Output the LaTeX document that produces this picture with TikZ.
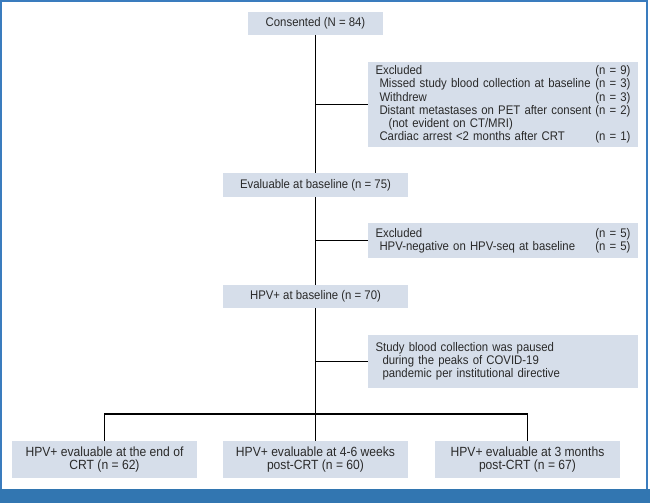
\documentclass[tikz,border=0pt]{standalone}
\usepackage{fontspec}
\setmainfont{Liberation Sans}[FakeStretch=0.91]
\definecolor{boxfill}{HTML}{D6DEEA}
\definecolor{frameblue}{HTML}{3A7CBE}
\definecolor{bandblue}{HTML}{3276B1}
\definecolor{txt}{HTML}{2A2A2A}
\newcommand{\rowlr}[2]{\makebox[255pt][l]{#1\hfill#2}}
\begin{document}
\begin{tikzpicture}[x=1pt,y=-1pt,
  box/.style={fill=boxfill, inner sep=0pt, text=txt,
    font=\fontsize{12.5}{13.2}\selectfont},
  sidebox/.style={box, text width=255pt, inner xsep=7.5pt, align=left},
  botbox/.style={box, minimum width=185pt, minimum height=37pt, align=center,
    font=\fontsize{13.3}{13.3}\selectfont},
  link/.style={draw=black, line width=1.4pt}]
\useasboundingbox (0,0) rectangle (650,503);
% frame and band
\draw[frameblue, line width=1.6pt] (0.8,489) -- (0.8,0.8) -- (647,0.8) -- (647,489);
\fill[bandblue] (0,489) rectangle (650,503);
% main boxes
\node[box, minimum width=135pt, minimum height=23pt] (cons) at (315.5,23.5) {Consented (N = 84)};
\node[box, minimum width=185pt, minimum height=24pt] (evalb) at (315.5,185) {Evaluable at baseline (n = 75)};
\node[box, minimum width=185pt, minimum height=23pt] (hpvb) at (315.5,296.5) {HPV+ at baseline (n = 70)};
% side boxes
\node[sidebox, minimum height=85pt] (excl1) at (503,104.5) {%
\rowlr{Excluded}{(n = 9)}\\
\rowlr{\hspace*{4pt}Missed study blood collection at baseline}{(n = 3)}\\
\rowlr{\hspace*{4pt}Withdrew}{(n = 3)}\\
\rowlr{\hspace*{4pt}Distant metastases on PET after consent}{(n = 2)}\\
\rowlr{\hspace*{13pt}(not evident on CT/MRI)}{}\\
\rowlr{\hspace*{4pt}Cardiac arrest <2 months after CRT}{(n = 1)}};
\node[sidebox, minimum height=35pt] (excl2) at (503,240.5) {%
\rowlr{Excluded}{(n = 5)}\\
\rowlr{\hspace*{4pt}HPV-negative on HPV-seq at baseline}{(n = 5)}};
\node[sidebox, minimum height=53pt] (study) at (503,361.5) {%
Study blood collection was paused\\
\hspace*{7pt}during the peaks of COVID-19\\
\hspace*{7pt}pandemic per institutional directive};
% bottom boxes
\node[botbox] (b1) at (104.5,459.5) {HPV+ evaluable at the end of\\CRT (n = 62)};
\node[botbox] (b2) at (315.5,459.5) {HPV+ evaluable at 4-6 weeks\\post-CRT (n = 60)};
\node[botbox] (b3) at (527.5,459.5) {HPV+ evaluable at 3 months\\post-CRT (n = 67)};
\coordinate (split) at (315.5,414);
% connectors
\draw[link] (cons.south) -- (evalb.north);
\draw[link] (evalb.south) -- (hpvb.north);
\draw[link] (hpvb.south) -- (b2.north);
\draw[link] (excl1.west) -- (excl1.west -| cons.south);
\draw[link] (excl2.west) -- (excl2.west -| evalb.south);
\draw[link] (study.west) -- (study.west -| hpvb.south);
\draw[link] (b1.north) |- (split) -| (b3.north);
\end{tikzpicture}
\end{document}
